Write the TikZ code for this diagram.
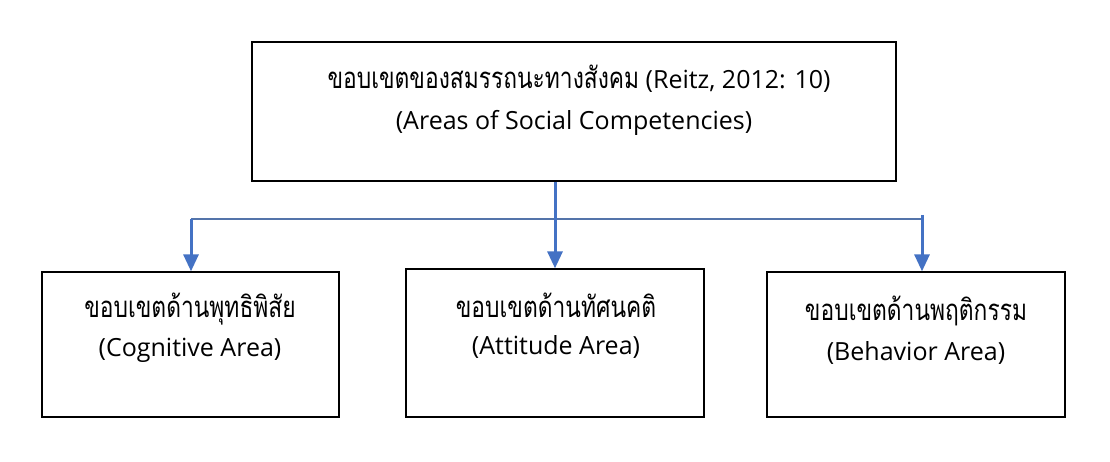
\documentclass[tikz,border=0pt]{standalone}
\usepackage{graphicx}
\usepackage{fontspec}
\setmainfont{Open Sans}
\newfontfamily\thaifont[Script=Thai]{Loma}
\newcommand\thtext[1]{\scalebox{0.97}[1.25]{\thaifont\fontsize{23.5}{28}\selectfont #1}}
\usetikzlibrary{arrows.meta}
\definecolor{arrowblue}{RGB}{68,114,196}
\definecolor{lineblue}{RGB}{84,116,170}
\begin{document}
\begin{tikzpicture}[x=1pt,y=-1pt,
  boxnode/.style={draw=black,line width=1.3pt,inner sep=0pt,fill=white},
  txt/.style={inner sep=0pt,font=\fontsize{25}{30}\selectfont},
  arr/.style={draw=arrowblue,line width=3pt,-{Triangle[width=15pt,length=17pt]}},
  bar/.style={draw=lineblue,line width=1.3pt}]
\fill[white] (0,0) rectangle (1110,462);
\useasboundingbox (0,0) rectangle (1110,462);
% boxes
\node[boxnode,minimum width=644pt,minimum height=139pt] (top) at (574,111.5) {};
\node[boxnode,minimum width=297pt,minimum height=145pt] (left) at (190.5,344.5) {};
\node[boxnode,minimum width=298pt,minimum height=148pt] (mid) at (555,343) {};
\node[boxnode,minimum width=298pt,minimum height=145pt] (right) at (916,344.5) {};
% texts
\node[txt] (t1) at (579,79) {\thtext{ขอบเขตของสมรรถนะทางสังคม} (Reitz, 2012: 10)};
\node[txt] (t2) at (574,123) {(Areas of Social Competencies)};
\node[txt] (l1) at (190,309) {\thtext{ขอบเขตด้านพุทธิพิสัย}};
\node[txt] (l2) at (190,350) {(Cognitive Area)};
\node[txt] (m1) at (556,305) {\thtext{ขอบเขตด้านทัศนคติ}};
\node[txt] (m2) at (556,347) {(Attitude Area)};
\node[txt] (r1) at (916,311) {\thtext{ขอบเขตด้านพฤติกรรม}};
\node[txt] (r2) at (916,353) {(Behavior Area)};
% connectors
\coordinate (hl) at (191,219);
\coordinate (hr) at (922,219);
\coordinate (rs) at (922,215);
\draw[bar] (hl) -- (hr);
\draw[arr] (top.south -| mid.north) -- (mid.north);
\draw[arr] (hl) -- (hl |- left.north);
\draw[arr] (rs) -- (rs |- right.north);
\end{tikzpicture}
\end{document}
